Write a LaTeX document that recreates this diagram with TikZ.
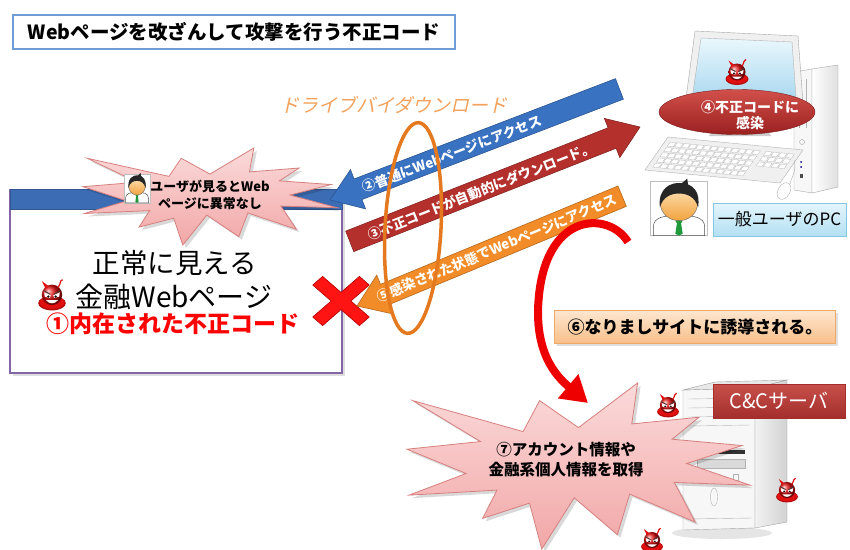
\documentclass[tikz,border=0pt]{standalone}
\usepackage{fontspec}
\setmainfont{Noto Sans CJK JP}
\newfontfamily\slantfont[FakeSlant=0.22]{Noto Sans CJK JP}
\usetikzlibrary{arrows.meta,shadows,shapes.geometric,calc}

\definecolor{titleblue}{HTML}{6F9BD6}
\definecolor{barblue}{HTML}{3C6DB4}
\definecolor{pagepurple}{HTML}{8466A8}
\definecolor{pinktop}{HTML}{FBDADA}
\definecolor{pinkbot}{HTML}{F2A7A7}
\definecolor{pinkedge}{HTML}{D6807E}
\definecolor{arrblue}{HTML}{3A72C2}
\definecolor{arrred}{HTML}{B3302C}
\definecolor{arrora}{HTML}{F28C28}
\definecolor{ringora}{HTML}{E5791F}
\definecolor{driveora}{HTML}{F2A25C}
\definecolor{xred}{HTML}{FF1414}
\definecolor{curvred}{HTML}{EE0000}
\definecolor{devilred}{HTML}{E01010}
\definecolor{elltop}{HTML}{D2504A}
\definecolor{ellbot}{HTML}{9A2020}
\definecolor{lbltop}{HTML}{E4F5FC}
\definecolor{lblbot}{HTML}{B3E0F3}
\definecolor{lbledge}{HTML}{86C6E2}
\definecolor{luretop}{HTML}{FDE7D0}
\definecolor{lurebot}{HTML}{F8BE88}
\definecolor{lureedge}{HTML}{F0A868}
\definecolor{cctop}{HTML}{C8504B}
\definecolor{ccbot}{HTML}{A32E2B}
\definecolor{screentop}{HTML}{EAF7FD}
\definecolor{screenbot}{HTML}{A9D9EF}
\definecolor{skintop}{HTML}{FDE0B4}
\definecolor{skinbot}{HTML}{F2A33E}
\definecolor{tiegreen}{HTML}{1E9A3A}

% outline of the explosion shape in a 216 x 216 box
\newcommand\burstpath{(108,58) -- (145.22,0) -- (141.55,53.25) -- (183.80,44.57) -- (167.02,73.15) -- (210.97,81.37) -- (176.07,104.75) -- (216,132.90) -- (168.37,129.42) -- (181.45,180.95) -- (140.20,144.57) -- (132.47,197.37) -- (105.32,149.35) -- (84.85,216) -- (77.15,156.27) -- (47.62,176.17) -- (56.67,139.37) -- (1.35,145.87) -- (37.22,117.75) -- (0,86.15) -- (46.27,76.17) -- (3.70,22.95) -- (73.12,63.20) -- (83.52,22.95) -- cycle}
% #1,#2 top left corner, #3 width, #4 height
\newcommand\explosion[4]{%
  \begin{scope}[shift={(#1+3,#2+3)}, xscale=#3/216, yscale=#4/216]
    \fill[black, opacity=0.15] \burstpath;
  \end{scope}
  \begin{scope}[shift={(#1,#2)}, xscale=#3/216, yscale=#4/216]
    \draw[burst] \burstpath;
  \end{scope}}
% thick block arrow: tip, angle towards the tail, length, colour
\newcommand\blockarrow[4]{%
  \begin{scope}[shift={(#1)}, rotate=#2]
    \filldraw[fill=#4, draw=#4!75!black, line width=0.6] (0,0) -- (30,-21) -- (30,-11) -- (#3,-11) -- (#3,11) -- (30,11) -- (30,21) -- cycle;
  \end{scope}}

\tikzset{
  burst/.style={draw=pinkedge, line width=0.8, top color=pinktop, bottom color=pinkbot},
  arrowtext/.style={text=white, font=\bfseries\fontsize{13.5}{16}\selectfont, inner sep=0},
  devil/.pic={
    \fill[devilred!80!black] (0,6) ellipse (11.5 and 6);
    \fill[devilred] (0,5.5) ellipse (10.5 and 5.2);
    \shade[ball color=devilred] (0,-1) circle (8.5);
    \fill[devilred] (-5.5,-6.5) -- (-8.5,-12.5) -- (-2.5,-8) -- cycle;
    \draw[devilred, line width=1.2] (5,-7) .. controls (8,-11) and (6,-13) .. (9,-13.5);
    \fill[white] (-6.5,-3) -- (-1,-0.5) -- (-2,1.5) -- (-6,0.5) -- cycle;
    \fill[white] (6.5,-3) -- (1,-0.5) -- (2,1.5) -- (6,0.5) -- cycle;
    \fill[black] (-3,0.4) circle (1);
    \fill[black] (3,0.4) circle (1);
    \draw[black!75, line width=0.8] (-7,-4.5) -- (-1.5,-1.5) (7,-4.5) -- (1.5,-1.5);
    \fill[white] (-5,3.5) .. controls (-2,7) and (2,7) .. (5,3.5) -- cycle;
  },
  usericon/.pic={
    \draw[black!70, line width=0.5, fill=white] (-12.5,14) -- (-12.5,9) .. controls (-12.5,3.5) and (-7,2.5) .. (0,2.5) .. controls (7,2.5) and (12.5,3.5) .. (12.5,9) -- (12.5,14) -- cycle;
    \fill[tiegreen] (0,4) -- (-1.6,6) -- (-1,7) -- (-1.8,13) -- (0,14) -- (1.8,13) -- (1,7) -- (1.6,6) -- cycle;
    \draw[black!60, line width=0.4, top color=skintop, bottom color=skinbot] (0,-4) ellipse (9 and 9.5);
    \fill[black!85] (-9.3,-2) .. controls (-10.5,-13) and (-4,-16.5) .. (1,-16) .. controls (7,-15.5) and (10.5,-11) .. (9.3,-2) .. controls (8,-8) and (4,-10) .. (0,-10) .. controls (-4,-10) and (-8,-8) .. (-9.3,-2) -- cycle;
    \fill[black!85] (1,-15.5) -- (4,-18.5) -- (4.5,-14.5) -- cycle;
  }
}

\begin{document}
\begin{tikzpicture}[x=1pt, y=-1pt, font=\fontsize{12}{14}\selectfont]
\useasboundingbox (0,0) rectangle (850,549);
\fill[white] (0,0) rectangle (850,549);

% heading
\node[draw=titleblue, line width=1.2, fill=white, minimum width=442, minimum height=34, inner sep=0,
      font=\bfseries\fontsize{19.5}{22}\selectfont] (title) at (234,32) {Webページを改ざんして攻撃を行う不正コード};

% the web page
\node[draw=pagepurple, line width=1.3, fill=white, minimum width=332, minimum height=183, inner sep=0,
      drop shadow={opacity=0.25, shadow xshift=3pt, shadow yshift=-3pt}] (page) at (176,281.5) {};
\node[fill=barblue, draw=barblue!80!black, minimum width=332, minimum height=20, inner sep=0, anchor=north] (pagebar) at (page.north) {};
\node[font=\fontsize{27.5}{30}\selectfont, inner sep=0] (pagetop) at (175,263) {正常に見える};
\node[font=\fontsize{28}{30}\selectfont, inner sep=0] (pagemid) at (174,297) {金融Webページ};
\pic[scale=1.2] at (52,296) {devil};
\node[text=red, font=\bfseries\fontsize{23}{26}\selectfont, inner sep=0] (pagecode) at (173,324) {①内在された不正コード};

% what the user sees
\explosion{83}{148}{254}{97}
\node[draw=gray!50, fill=white, minimum width=26, minimum height=29, inner sep=0] (seeuser) at (137,189) {};
\pic[scale=0.92] at (137,190) {usericon};
\node[font=\bfseries\fontsize{13}{17}\selectfont, align=center, inner sep=0] (seetext) at (210,195) {ユーザが見るとWeb\\ページに異常なし};

% blocked access
\begin{scope}[shift={(341,301)}, yscale=0.87, rotate=45]
  \filldraw[fill=xred, draw=red!70!black, line width=0.6] (-7,-33) -- (7,-33) -- (7,-7) -- (33,-7) -- (33,7) -- (7,7) -- (7,33) -- (-7,33) -- (-7,7) -- (-33,7) -- (-33,-7) -- (-7,-7) -- cycle;
\end{scope}

% traffic between the PC and the page
\blockarrow{330,200}{21}{310}{arrblue}
\blockarrow{640,127}{201.5}{312}{arrred}
\blockarrow{357,306}{22.5}{287}{arrora}
\node[arrowtext, rotate=21] (accessA) at (452,154) {②普通にWebページにアクセス};
\node[arrowtext, rotate=21.5] (download) at (481,191) {③不正コードが自動的にダウンロード。};
\node[arrowtext, rotate=22.5] (accessB) at (497,248) {⑤感染された状態でWebページにアクセス};

\node[ellipse, draw=ringora, line width=3.5, minimum width=56, minimum height=211, inner sep=0, rotate=-3] (ring) at (413,228) {};
\node[text=driveora, font=\slantfont\fontsize{19}{22}\selectfont, inner sep=0] (drivetext) at (394,105) {ドライブバイダウンロード};

% user's PC: tower
\draw[gray!70, fill=gray!6] (794,72) -- (812,69) -- (812,193) -- (794,190) -- cycle;
\draw[gray!70, left color=white, right color=gray!25] (812,69) -- (838,65) -- (838,187) -- (812,193) -- cycle;
\draw[gray!60] (799,80) -- (799,128) (806,79) -- (806,128);
\draw[gray!70] (802,142) circle (2.5);
\fill[blue!50!black] (801,162) circle (1) (801,167) circle (1);
\fill[black!70] (799.5,174) rectangle (803,178);
% monitor
\fill[gray!40] (715,126) -- (765,126) -- (771,136) -- (709,136) -- cycle;
\draw[gray!70, fill=gray!12] (695,31) -- (798,36) -- (803,103) -- (685,106) -- cycle;
\draw[gray!60, top color=screentop, bottom color=screenbot] (701,38) -- (792,42) -- (796,97) -- (692,99) -- cycle;
\pic at (737,73) {devil};
% keyboard
\begin{scope}[shift={(645,170)}, x={(135pt,-13pt)}, y={(23pt,33pt)}]
  \draw[gray!60, fill=gray!12] (0,0) -- (1,0) -- (1,1) -- (0,1) -- cycle;
  \foreach \r in {0,...,4}
    \foreach \c in {0,...,12}
      \draw[gray!55, fill=white, line width=0.3] (0.04+\c*0.052, 0.1+\r*0.16) -- ++(0.044,0) -- ++(0,0.12) -- ++(-0.044,0) -- cycle;
  \foreach \r in {2,3,4}
    \foreach \c in {0,...,3}
      \draw[gray!55, fill=white, line width=0.3] (0.75+\c*0.055, 0.1+\r*0.16) -- ++(0.045,0) -- ++(0,0.12) -- ++(-0.045,0) -- cycle;
\end{scope}
\draw[gray!60] (790,184) .. controls (792,176) and (797,170) .. (794,160);
\draw[gray!60, fill=white, rotate around={-30:(784,191)}] (784,191) ellipse (6 and 9);

\node[ellipse, draw=ellbot!80!black, top color=elltop, bottom color=ellbot, minimum width=156, minimum height=45, inner sep=0] (infect) at (737,112) {};
\node[text=white, font=\bfseries\fontsize{14}{16.5}\selectfont, align=center, inner sep=0] (infecttext) at (750,115) {④不正コードに\\感染};

% the user
\node[draw=gray!50, fill=white, minimum width=57, minimum height=54, inner sep=0] (pcuser) at (679,208.5) {};
\pic[xscale=2.05, yscale=1.75] at (679,211) {usericon};
\node[draw=lbledge, top color=lbltop, bottom color=lblbot, minimum width=133, minimum height=33, inner sep=0,
      font=\fontsize{17}{20}\selectfont] (pclabel) at (779.5,219.5) {一般ユーザのPC};

% redirect
\node[draw=lureedge, top color=luretop, bottom color=lurebot, minimum width=281, minimum height=33, inner sep=0,
      font=\bfseries\fontsize{17}{20}\selectfont, drop shadow={opacity=0.25, shadow xshift=2pt, shadow yshift=-2pt}] (lure) at (695,327) {⑥なりましサイトに誘導される。};

% C&C server
\fill[gray!50, opacity=0.4] (722,533) ellipse (50 and 6);
\draw[gray!70, fill=gray!6] (683,390) -- (755,388) -- (755,528) -- (683,530) -- cycle;
\draw[gray!70, left color=gray!10, right color=gray!35] (755,388) -- (787,380) -- (787,522) -- (755,528) -- cycle;
\draw[gray!70, fill=gray!18] (683,390) -- (755,388) -- (787,380) -- (715,382) -- cycle;
\draw[gray!55] (688,399) -- (750,398) (688,408) -- (750,407) (688,417) -- (750,416) (688,426) -- (750,425);
\fill[black!80] (697,450) rectangle (745,454);
\draw[gray!60, fill=gray!30] (697,459) rectangle (745,468);
\draw[gray!60] (714,497) ellipse (3.5 and 9);
\draw[gray!60] (733,474) rectangle (738,480);
\draw[gray!60] (686,519) -- (752,518);
\node[top color=cctop, bottom color=ccbot, draw=ccbot, minimum width=132, minimum height=34, inner sep=0, text=white,
      font=\fontsize{20}{22}\selectfont] (ccbox) at (779,401) {C\&Cサーバ};

% stolen data
\explosion{407}{383}{343}{166}
\node[font=\bfseries\fontsize{15.5}{20}\selectfont, align=center, inner sep=0] (stolen) at (566,460) {⑦アカウント情報や\\金融系個人情報を取得};
\pic[scale=0.95] at (668,406) {devil};
\pic[scale=0.95] at (787,491) {devil};
\pic[scale=0.95] at (652,541) {devil};

% redirect path
\coordinate (lurestart) at (628,242);
\coordinate (lureend) at (588,403);
\draw[curvred, line width=8, -{Triangle[width=30pt,length=26pt]}] (lurestart) .. controls (610,212) and (548,210) .. (539,295) .. controls (533,352) and (556,376) .. (lureend);
\end{tikzpicture}
\end{document}
